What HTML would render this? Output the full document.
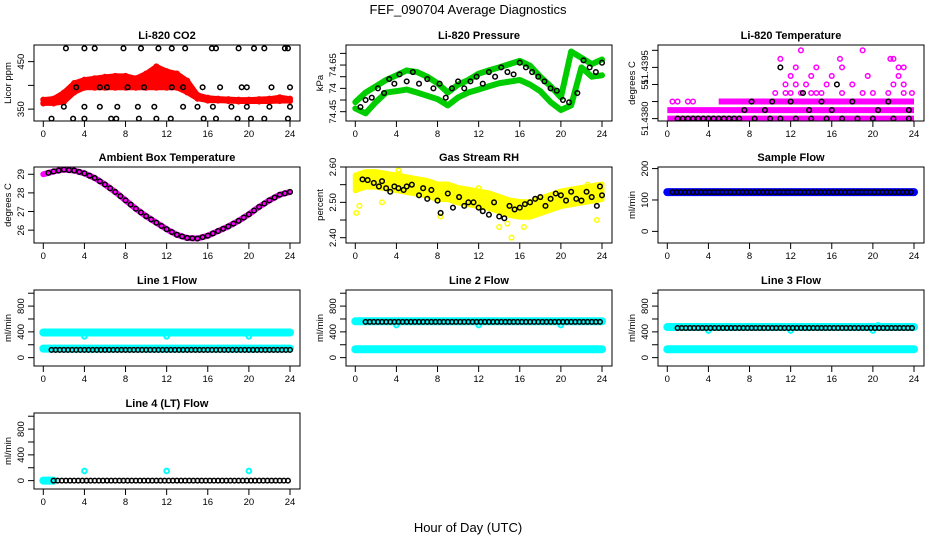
<!DOCTYPE html>
<html><head><meta charset="utf-8">
<style>
body{margin:0;background:#fff;}
svg{display:block;font-family:"Liberation Sans",sans-serif;}
</style></head>
<body>
<svg id="c" width="936" height="540" viewBox="0 0 936 540">
<text x="468" y="14" text-anchor="middle" font-size="13">FEF_090704  Average Diagnostics</text>
<text x="468" y="532" text-anchor="middle" font-size="13">Hour of Day (UTC)</text>
</svg>
<script>
// ---------- data ----------
var xTicks = [0,4,8,12,16,20,24];
// CO2
var co2Hours = [0,1,2,3,4,5,6,7,8,9,10,11,12,13,14,15,16,17,18,19,20,21,22,23,24];
var co2Low  = [362,362,365,385,395,395,395,395,395,395,395,395,395,395,385,372,368,368,367,366,366,366,366,367,367];
var co2High = [370,372,385,405,412,415,418,420,420,415,425,440,430,425,410,380,374,372,371,370,370,371,372,375,372];
var co2BlackH = [2.2,4,5,7.8,9.5,11.2,12.5,13.8,16.4,16.8,19,20.5,21.5,23.5,23.8, 3.2,5.5,6.2,8.2,9.8,12.5,13.6,15.5,17.2,19.3,19.8,22.2,24, 2.0,4,5.5,7.2,9.2,10.8,13.6,15,16.5,18.3,19.8,22,24, 0.8,2.9,4,6.6,7.1,9.3,11,12.4,15.6,16.8,18.9,20.2,21.5,23.8];
var co2BlackV = [478,478,478,478,478,478,478,478,478,478,478,478,478,478,478, 396,396,396,396,396,396,396,396,396,396,396,396,396, 355,355,355,355,355,355,355,355,355,355,355,355,355, 330,330,330,330,330,330,330,330,330,330,330,330,330,330];
// Pressure
var presHours = co2Hours;
var presLower = [74.464,74.443,74.491,74.532,74.538,74.545,74.532,74.518,74.504,74.477,74.511,74.532,74.545,74.559,74.572,74.579,74.586,74.566,74.538,74.491,74.457,74.477,74.640,74.600,74.606];
var presUpper = [74.491,74.532,74.559,74.586,74.606,74.627,74.620,74.600,74.572,74.532,74.566,74.586,74.613,74.627,74.640,74.654,74.668,74.647,74.600,74.559,74.511,74.708,74.681,74.654,74.674];
var presBlackH = [0.5,1,1.6,2.2,2.8,3.3,3.8,4.3,5,5.6,6.2,7,7.6,8.2,8.8,9.4,10,10.6,11.2,11.8,12.4,13,13.6,14.2,14.8,15.4,16,16.6,17.2,17.8,18.4,19,19.6,20.2,20.8,21.6,22.2,22.8,23.4,24];
var presBlackV = [74.47,74.50,74.51,74.55,74.53,74.59,74.57,74.61,74.58,74.62,74.57,74.59,74.55,74.57,74.51,74.55,74.58,74.55,74.58,74.60,74.57,74.62,74.60,74.64,74.62,74.61,74.66,74.64,74.62,74.60,74.58,74.55,74.54,74.50,74.49,74.53,74.67,74.64,74.62,74.66];
// Temperature (levels in 0.00025 steps above 51.4380)
var tempBands = [[0,0,24],[1,0,24],[2,5,24]];
var tempPinkH = [0.5,1,2,2.5,10.5,11.5,12,13,14,14.5,15,17,19,20,21.5,23,23.8, 11.5,12.5,13.5,15.5,18,22,23, 12,14,16,19.5,22.5, 12.5,14.5,17,22.5,23, 11,16.8,21.7,22, 13,19];
var tempPinkK = [2,2,2,2,3,3,3,3,3,3,3,3,3,3,3,3,3, 4,4,4,4,4,4,4, 5,5,5,5,5, 6,6,6,6,6, 7,7,7,7, 8,8];
var tempBlackH = [1,1.5,2,2.5,3,3.5,4,4.5,5,5.5,6,6.5,7,8.5,10,11,12.5,14,15.5,17,18.5,20,22,23.5, 7.5,9.5,13.8,16,20.5,23.5, 8.2,10.2,12,15,18,21.5, 13.2, 16.5, 11];
var tempBlackK = [0,0,0,0,0,0,0,0,0,0,0,0,0,0,0,0,0,0,0,0,0,0,0,0, 1,1,1,1,1,1, 2,2,2,2,2,2, 3, 4, 6];
// Ambient box temperature
var ambHours = co2Hours;
var ambTemp = [29.0,29.15,29.25,29.2,29.05,28.8,28.45,28.05,27.6,27.15,26.75,26.4,26.05,25.75,25.58,25.55,25.7,25.95,26.2,26.5,26.85,27.25,27.6,27.9,28.05];
// Gas stream RH
var rhHours = co2Hours;
var rhCenter = [2.555,2.565,2.565,2.56,2.555,2.55,2.545,2.54,2.53,2.53,2.52,2.515,2.51,2.505,2.495,2.485,2.48,2.48,2.49,2.50,2.51,2.515,2.52,2.525,2.53];
var rhBlackH = [0.7,1.2,1.8,2.3,2.6,3.0,3.4,3.8,4.2,4.7,5,5.5,6.2,6.6,7,7.4,8,8.3,9,9.5,10.1,10.6,11,11.5,12,12.4,13,13.5,14,14.5,15,15.5,16,16.5,17,17.5,18,18.5,19,19.5,20,20.5,21,21.5,22,22.5,23,23.5,23.8,24];
var rhBlackV = [2.565,2.563,2.555,2.545,2.56,2.54,2.53,2.545,2.54,2.535,2.545,2.55,2.52,2.54,2.51,2.535,2.505,2.47,2.525,2.485,2.515,2.49,2.5,2.5,2.485,2.475,2.465,2.5,2.46,2.455,2.49,2.48,2.485,2.495,2.5,2.51,2.515,2.49,2.51,2.525,2.52,2.505,2.53,2.51,2.505,2.53,2.515,2.49,2.545,2.52];
var rhOutH = [0.1,0.4,4.2,4.3,2.6,8.3,12.0,14,15.2,14.8,16.4,22.6,23.5];
var rhOutV = [2.47,2.49,2.59,2.58,2.50,2.46,2.54,2.43,2.40,2.44,2.43,2.55,2.45];
// Flows: bands [level, startHour, endHour]
var sampleBlue = [[125,0,24]];
var sampleBlack = [[125,0.5,24]];
var line1Cyan = [[390,0,24],[140,0,24]];
var line1Black = [[120,0.8,24]];
var line1DipH = [4,12,20]; var line1DipV = [330,330,330];
var line2Cyan = [[565,0,24],[130,0,24]];
var line2Black = [[555,1,24]];
var line2DipH = [4,12,20]; var line2DipV = [505,505,505];
var line3Cyan = [[475,0,24],[130,0,24]];
var line3Black = [[460,1,24]];
var line3DipH = [4,12,20,20.5]; var line3DipV = [420,420,420,500];
var line4Cyan = [[0,0,1]];
var line4Black = [[0,1,24]];
var line4DipH = [4,12,20]; var line4DipV = [150,150,150];

// ---------- drawing ----------
var svg = document.getElementById('c');
var NS = 'http://www.w3.org/2000/svg';
function mk(tag, attrs, parent){ var e=document.createElementNS(NS,tag); for(var k in attrs) e.setAttribute(k,attrs[k]); (parent||svg).appendChild(e); return e; }
var colL = [34,346,658], rowT = [45,167,290,413], W = 266, H = 76;

function panel(row, col, title, ylab, ylim, yticks, ylabels, name){
  var L = colL[col], T = rowT[row];
  var g = mk('g',{});
  
  
  var sx = function(h){ return L + 9.3 + h*(246.7/24); };
  var sy = function(v){ return T + H - (v-ylim[0])/(ylim[1]-ylim[0])*H; };
  var clip = mk('clipPath',{id:'cp'+name}, g);
  mk('rect',{x:L,y:T,width:W,height:H}, clip);
  var plot = mk('g',{'clip-path':'url(#cp'+name+')'}, g);
  var box = mk('rect',{x:L,y:T,width:W,height:H,fill:'none',stroke:'#000','stroke-width':1}, g);
  
  
  var t = mk('text',{x:L+W/2,y:T-6,'text-anchor':'middle','font-size':11,'font-weight':'bold'}, g);
  t.textContent = title;
  
  
  var xa = mk('g',{}, g);
  
  
  xTicks.forEach(function(h){
    var x=sx(h);
    mk('line',{x1:x,x2:x,y1:T+H,y2:T+H+6,stroke:'#000'}, xa);
    var tl = mk('text',{x:x,y:T+H+16,'text-anchor':'middle','font-size':9.5}, xa);
    tl.textContent = h;
  });
  var ya = mk('g',{}, g);
  
  
  yticks.forEach(function(v,i){
    var y=sy(v);
    mk('line',{x1:L,x2:L-6,y1:y,y2:y,stroke:'#000'}, ya);
    if(ylabels[i]){
      var tl = mk('text',{x:L-10,y:y,'text-anchor':'middle','font-size':9.5,transform:'rotate(-90 '+(L-10)+' '+y+')'}, ya);
      tl.textContent = ylabels[i];
    }
  });
  var yl = mk('text',{x:L-23,y:T+H/2,'text-anchor':'middle','font-size':9.5,transform:'rotate(-90 '+(L-23)+' '+(T+H/2)+')'}, g);
  yl.textContent = ylab;
  
  
  return {g:plot, sx:sx, sy:sy};
}
function pt(p, h, v, color, sw){
  var c = mk('circle',{cx:p.sx(h),cy:p.sy(v),r:2.3,fill:'none',stroke:color,'stroke-width':sw||1.5}, p.g);
  
  
}
function bandPoly(p, hrs, lo, hi, color){
  var s='';
  for(var i=0;i<hrs.length;i++) s+=p.sx(hrs[i])+','+p.sy(hi[i])+' ';
  for(var i=hrs.length-1;i>=0;i--) s+=p.sx(hrs[i])+','+p.sy(lo[i])+' ';
  var e = mk('polygon',{points:s,fill:color,stroke:color,'stroke-width':5,'stroke-linejoin':'round'}, p.g);
  
  
}
function line(p, hrs, vals, color, w){
  var s = hrs.map(function(h,i){return p.sx(h)+','+p.sy(vals[i]);}).join(' ');
  var e = mk('polyline',{points:s,fill:'none',stroke:color,'stroke-width':w,'stroke-linejoin':'round','stroke-linecap':'round'}, p.g);
  
  
}
function bands(p, list, color, step, w){
  list.forEach(function(b){
    var e = mk('line',{x1:p.sx(b[1]),x2:p.sx(b[2]),y1:p.sy(b[0]),y2:p.sy(b[0]),stroke:color,'stroke-width':w,'stroke-linecap':'round'}, p.g);
    
    
    if(step) for(var h=b[1]; h<=b[2]+1e-9; h+=step) pt(p,h,b[0],color==='#00ffff'?'#000':color);
  });
}
function interp(hrs, vals, h){
  for(var i=0;i<hrs.length-1;i++) if(h<=hrs[i+1]){ var f=(h-hrs[i])/(hrs[i+1]-hrs[i]); return vals[i]+f*(vals[i+1]-vals[i]); }
  return vals[vals.length-1];
}

// Panel 1: CO2
var p = panel(0,0,'Li-820 CO2','Licor ppm',[325,485],[350,400,450],['350','','450'],'co2');
bandPoly(p, co2Hours, co2Low, co2High, '#ff0000');
co2Hours.forEach(function(h,i){ pt(p,h,co2Low[i],'#ff0000'); pt(p,h,co2High[i],'#ff0000'); });
co2BlackH.forEach(function(h,i){ pt(p,h,co2BlackV[i],'#000'); });

// Panel 2: Pressure
p = panel(0,1,'Li-820 Pressure','kPa',[74.41,74.736],[74.45,74.5,74.55,74.6,74.65,74.7],['74.45','','74','','74.65',''],'pressure');
line(p, presHours, presLower, '#00cd00', 6);
line(p, presHours, presUpper, '#00cd00', 6);
presBlackH.forEach(function(h,i){ pt(p,h,presBlackV[i],'#000'); });

// Panel 3: Temperature
var tBase = 51.4380, tStep = 0.00025;
p = panel(0,2,'Li-820 Temperature','degrees C',[51.43793,51.440156],[51.4380,51.4385,51.4390,51.4395,51.4400],['51.4380','','51','51.4395',''],'li820-temperature');
tempBands.forEach(function(b){
  var e = mk('line',{x1:p.sx(b[1]),x2:p.sx(b[2]),y1:p.sy(tBase+b[0]*tStep),y2:p.sy(tBase+b[0]*tStep),stroke:'#ff00ff','stroke-width':6}, p.g);
  
  
});
tempPinkH.forEach(function(h,i){ pt(p,h,tBase+tempPinkK[i]*tStep,'#ff00ff'); });
tempBlackH.forEach(function(h,i){ pt(p,h,tBase+tempBlackK[i]*tStep,'#000'); });

// Panel 4: Ambient
p = panel(1,0,'Ambient Box Temperature','degrees C',[25.31,29.39],[26,27,28,29],['26','27','28','29'],'ambient');
line(p, ambHours, ambTemp, '#ff00ff', 6);
for(var h=0.5; h<=24; h+=0.5) pt(p,h,interp(ambHours,ambTemp,h),'#000');

// Panel 5: RH
p = panel(1,1,'Gas Stream RH','percent',[2.385,2.60],[2.40,2.45,2.50,2.55,2.60],['2.40','','2.50','','2.60'],'rh');
bandPoly(p, rhHours, rhCenter.map(function(v){return v-0.022;}), rhCenter.map(function(v){return v+0.022;}), '#ffff00');
rhOutH.forEach(function(h,i){ pt(p,h,rhOutV[i],'#ffff00'); });
rhBlackH.forEach(function(h,i){ pt(p,h,rhBlackV[i],'#000'); });

// Panel 6: Sample flow
p = panel(1,2,'Sample Flow','ml/min',[-37,205],[0,100,200],['0','100','200'],'sample-flow');
bands(p, sampleBlue, '#0000ff', 0, 8);
bands(p, sampleBlack, '#000', 0.4, 0);

var fl = [-130,1050], ft = [0,200,400,600,800,1000], fl2 = ['0','','400','','800',''];
function flowPanel(row,col,title,name,cyan,black,dH,dV){
  var p = panel(row,col,title,'ml/min',fl,ft,fl2,name);
  bands(p, cyan, '#00ffff', 0, 8);
  dH.forEach(function(h,i){ pt(p,h,dV[i],'#00ffff',2); });
  black.forEach(function(b){ for(var h=b[1]; h<=b[2]+1e-9; h+=0.4) pt(p,h,b[0],'#000'); });
}
flowPanel(2,0,'Line 1 Flow','line1-flow',line1Cyan,line1Black,line1DipH,line1DipV);
flowPanel(2,1,'Line 2 Flow','line2-flow',line2Cyan,line2Black,line2DipH,line2DipV);
flowPanel(2,2,'Line 3 Flow','line3-flow',line3Cyan,line3Black,line3DipH,line3DipV);
flowPanel(3,0,'Line 4 (LT) Flow','line4-flow',line4Cyan,line4Black,line4DipH,line4DipV);
</script>
</body></html>
